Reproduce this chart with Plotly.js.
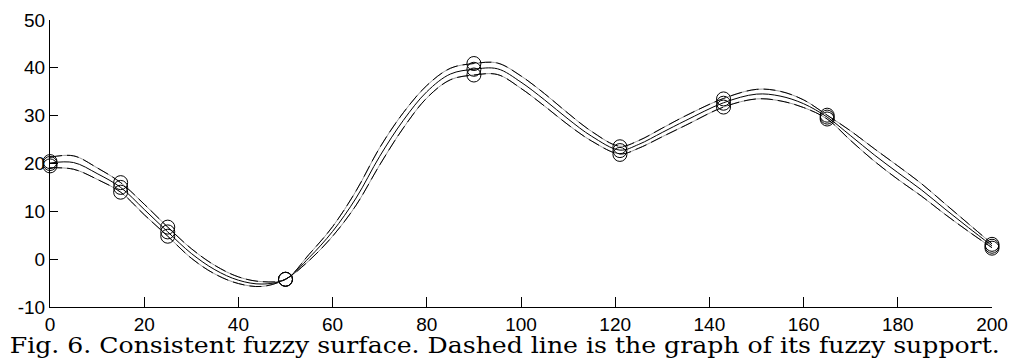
<!DOCTYPE html>
<html>
<head>
<meta charset="utf-8">
<script src="https://cdn.plot.ly/plotly-3.0.1.min.js"></script>
<style>
html,body{margin:0;padding:0;background:#fff;}
#chart{width:1013px;height:360px;}
</style>
</head>
<body>
<div id="chart"></div>
<script>
// Curve sample positions
const curveX = [0,5,10,15,20,25,30,35,40,45,50,55,60,65,70,75,80,85,90,95,100,105,110,115,121,125,130,135,143,150,155,160,165,170,175,180,185,190,195,200];
// Centre curve (solid)
const centreY = [20.1,20.2,17.9,15.0,10.4,5.7,1.2,-2.2,-4.4,-5.2,-4.2,0.3,5.8,12.8,21.5,29.0,35.0,38.7,39.7,39.8,37.0,33.3,29.3,25.7,22.8,24.0,26.5,29.0,32.7,34.5,34.1,32.5,29.7,25.8,21.8,18.1,14.5,10.5,6.6,2.8];
// Upper support curve (dashed)
const upperY = [21.3,21.6,19.1,16.0,11.5,6.7,2.2,-1.3,-3.7,-4.7,-4.2,1.0,6.8,14.3,23.3,30.6,36.3,39.9,40.9,41.0,38.3,34.6,30.5,26.7,23.6,24.8,27.4,30.0,33.6,35.5,35.1,33.3,30.1,26.8,23.1,19.5,15.8,11.6,7.4,3.2];
// Lower support curve (dashed)
const lowerY = [19.1,18.8,16.7,14.0,9.3,4.8,0.2,-3.1,-5.1,-5.7,-4.2,-0.3,4.8,11.3,19.7,27.4,33.7,37.5,38.5,38.6,35.7,32.0,28.1,24.7,22.0,23.2,25.6,28.0,31.8,33.5,33.1,31.7,29.3,24.8,20.5,16.7,13.2,9.4,5.8,2.4];

// Fuzzy data points (circles)
const knotX = [0,15,25,50,90,121,143,165,200];
const knotCentre = [20.0,15.0,5.7,-4.2,39.7,22.7,32.6,29.7,2.7];
const knotUpper = [20.4,16.0,6.7,-4.2,40.9,23.5,33.5,30.1,3.1];
const knotLower = [19.5,14.0,4.8,-4.2,38.5,21.9,31.8,29.3,2.3];

// Axis ticks
const xTicks = [0,20,40,60,80,100,120,140,160,180,200];
const yTicks = [-10,0,10,20,30,40,50];

const caption = "Fig. 6. Consistent fuzzy surface. Dashed line is the graph of its fuzzy support.";

const grayLine = {color:'#9a9a9a', width:1, shape:'spline'};
const dashLine = {color:'#000', width:1, dash:'12px,5px', shape:'spline'};

const traces = [
  {x:curveX, y:upperY, mode:'lines', line:grayLine, hoverinfo:'skip'},
  {x:curveX, y:upperY, mode:'lines', line:dashLine, hoverinfo:'skip'},
  {x:curveX, y:lowerY, mode:'lines', line:grayLine, hoverinfo:'skip'},
  {x:curveX, y:lowerY, mode:'lines', line:dashLine, hoverinfo:'skip'},
  {x:curveX, y:centreY, mode:'lines', line:{color:'#000', width:1, shape:'spline'}, hoverinfo:'skip'},
  {x:knotX, y:knotUpper, mode:'markers', cliponaxis:false,
   marker:{symbol:'circle-open', size:14, color:'#000', line:{width:1, color:'#000'}}},
  {x:knotX, y:knotCentre, mode:'markers', cliponaxis:false,
   marker:{symbol:'circle-open', size:14, color:'#000', line:{width:1, color:'#000'}}},
  {x:knotX, y:knotLower, mode:'markers', cliponaxis:false,
   marker:{symbol:'circle-open', size:14, color:'#000', line:{width:1, color:'#000'}}}
];

const tickFont = {family:'"Liberation Sans", Arial, sans-serif', size:19, color:'#000'};

const layout = {
  width:1013, height:360,
  margin:{l:50, r:21, t:20, b:53},
  paper_bgcolor:'#fff', plot_bgcolor:'#fff',
  showlegend:false,
  xaxis:{
    range:[0,200], tickmode:'array', tickvals:xTicks, ticktext:xTicks.map(String),
    ticks:'inside', ticklen:10, tickwidth:1, tickcolor:'#000',
    showline:true, linecolor:'#000', linewidth:1, mirror:false,
    showgrid:false, zeroline:false, tickfont:tickFont, ticklabelstandoff:0
  },
  yaxis:{
    range:[-10,50], tickmode:'array', tickvals:yTicks, ticktext:yTicks.map(String),
    ticks:'inside', ticklen:8, tickwidth:1, tickcolor:'#000',
    showline:true, linecolor:'#000', linewidth:1, mirror:false,
    showgrid:false, zeroline:false, tickfont:tickFont, ticklabelstandoff:0
  },
  annotations:[{
    text:caption, xref:'paper', yref:'paper',
    x:0.483, y:-0.132, xanchor:'center', yanchor:'middle', showarrow:false,
    font:{family:'"DejaVu Serif", serif', size:23, color:'#000'}
  }]
};

Plotly.newPlot('chart', traces, layout, {displayModeBar:false, staticPlot:true}).then(function(){
  const t = document.querySelector('.annotation-text');
  if (t) {
    t.setAttribute('textLength', '990');
    t.setAttribute('lengthAdjust', 'spacingAndGlyphs');
  }
});
</script>
</body>
</html>
